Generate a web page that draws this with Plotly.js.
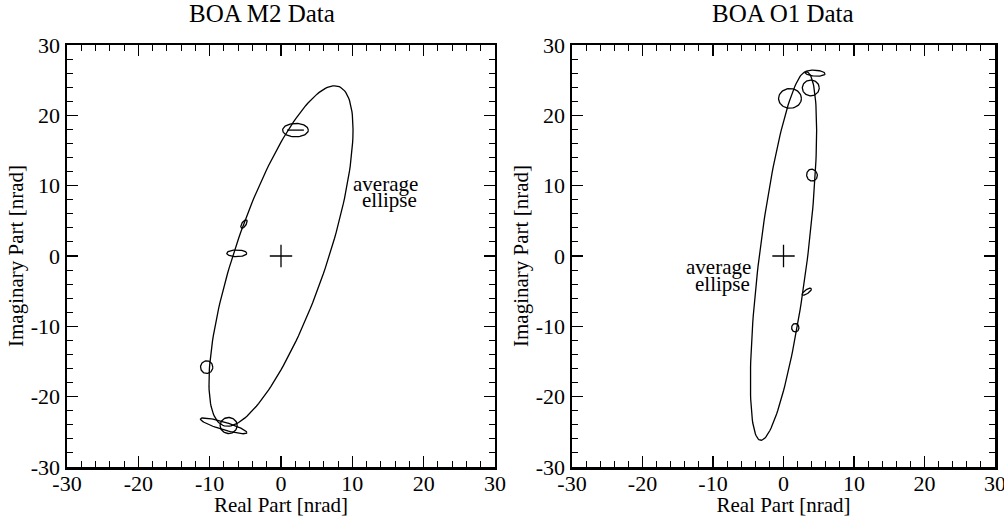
<!DOCTYPE html>
<html>
<head>
<meta charset="utf-8">
<script src="https://cdn.plot.ly/plotly-3.0.1.min.js"></script>
<style>html,body{margin:0;padding:0;background:#fff;}#chart{width:1004px;height:517px;}</style>
</head>
<body>
<div id="chart"></div>
<script>
// ---- Data ----
var panelTitles = ["BOA M2 Data", "BOA O1 Data"];
var xAxisTitle = "Real Part [nrad]";
var yAxisTitle = "Imaginary Part [nrad]";
var tickVals = [-30, -20, -10, 0, 10, 20, 30];
var tickText = ["-30", "-20", "-10", "0", "10", "20", "30"];

// average ellipse: x = ampX*cos(t), y = ampY*cos(t - phase)
var avgAmpX = [10.1, 4.7];
var avgAmpY = [24.2, 26.2];
var avgPhaseDeg = [42, 47];

// error ellipses, M2 panel
var m2CenterX = [2.03, -5.19, -6.2, -10.42, -7.34, -8.04];
var m2CenterY = [17.9, 4.55, 0.38, -15.8, -24.1, -24.15];
var m2SemiA   = [1.8, 0.68, 1.4, 0.86, 1.2, 3.4];
var m2SemiB   = [0.95, 0.3, 0.47, 0.9, 1.14, 0.55];
var m2AngleDeg = [0, 58, 0, 0, 0, -17];

// error ellipses, O1 panel
var o1CenterX = [0.92, 3.87, 4.47, 4.04, 3.3, 1.67];
var o1CenterY = [22.4, 23.9, 26.0, 11.5, -5.07, -10.2];
var o1SemiA   = [1.62, 1.2, 1.42, 0.75, 0.78, 0.52];
var o1SemiB   = [1.4, 1.12, 0.42, 0.85, 0.28, 0.6];
var o1AngleDeg = [0, 0, -4, 15, 35, 0];

// "average ellipse" labels (one line each)
var labelLines = ["average", "ellipse"];
var m2LabelX = [14.7, 15.2];
var m2LabelY = [10.3, 7.9];
var o1LabelX = [-4.5, -4.6];   // right edge
var o1LabelY = [-1.5, -3.95];

// ---- Build ----
var FONT = "Liberation Serif, Times New Roman, serif";
var NPTS = 181;

function avgEllipse(ax, ay, phDeg) {
  var ph = phDeg * Math.PI / 180, xs = [], ys = [];
  for (var i = 0; i < NPTS; i++) {
    var t = 2 * Math.PI * i / (NPTS - 1);
    xs.push(ax * Math.cos(t));
    ys.push(ay * Math.cos(t - ph));
  }
  return {x: xs, y: ys};
}
function errEllipse(cx, cy, a, b, angDeg) {
  var th = angDeg * Math.PI / 180, xs = [], ys = [];
  for (var i = 0; i < 73; i++) {
    var t = 2 * Math.PI * i / 72;
    var u = a * Math.cos(t), v = b * Math.sin(t);
    xs.push(cx + u * Math.cos(th) - v * Math.sin(th));
    ys.push(cy + u * Math.sin(th) + v * Math.cos(th));
  }
  return {x: xs, y: ys};
}

var traces = [];
var sets = [
  {cx: m2CenterX, cy: m2CenterY, a: m2SemiA, b: m2SemiB, ang: m2AngleDeg, xa: "x", ya: "y"},
  {cx: o1CenterX, cy: o1CenterY, a: o1SemiA, b: o1SemiB, ang: o1AngleDeg, xa: "x2", ya: "y2"}
];
for (var p = 0; p < 2; p++) {
  var s = sets[p];
  var av = avgEllipse(avgAmpX[p], avgAmpY[p], avgPhaseDeg[p]);
  traces.push({x: av.x, y: av.y, xaxis: s.xa, yaxis: s.ya, mode: "lines",
    line: {color: "black", width: 1.3}, hoverinfo: "skip", showlegend: false});
  for (var k = 0; k < s.cx.length; k++) {
    var e = errEllipse(s.cx[k], s.cy[k], s.a[k], s.b[k], s.ang[k]);
    traces.push({x: e.x, y: e.y, xaxis: s.xa, yaxis: s.ya, mode: "lines",
      line: {color: "black", width: 1.3}, hoverinfo: "skip", showlegend: false});
  }
  traces.push({x: [0], y: [0], xaxis: s.xa, yaxis: s.ya, mode: "markers",
    marker: {symbol: "cross-thin-open", size: 16, color: "black", line: {color: "black", width: 1.3}},
    hoverinfo: "skip", showlegend: false});
}
traces.push({x: [m2CenterX[0]], y: [m2CenterY[0]], xaxis: "x", yaxis: "y", mode: "markers",
  marker: {symbol: "line-ew-open", size: 12, color: "black", line: {color: "black", width: 1.3}},
  hoverinfo: "skip", showlegend: false});

function axis(domain, anchor, isY) {
  var ax = {
    domain: domain, anchor: anchor, range: [-30, 30], autorange: false,
    tickmode: "array", tickvals: tickVals, ticktext: tickText,
    ticks: "inside", ticklen: 11, tickwidth: 1.4, tickcolor: "black",
    minor: {dtick: 2, tick0: 0, ticks: "inside", ticklen: 6, tickwidth: 1.1, tickcolor: "black", showgrid: false},
    showline: true, linewidth: 2.5, linecolor: "black", mirror: "ticks",
    showgrid: false, zeroline: false, ticklabeloverflow: "allow",
    tickfont: {family: FONT, size: 22, color: "black"},
    title: {text: isY ? yAxisTitle : xAxisTitle, font: {family: FONT, size: 21, color: "black"}, standoff: isY ? 2 : 6}
  };
  if (!isY) ax.ticklabelstandoff = -5;
  return ax;
}

var annots = [
  {text: panelTitles[0], xref: "paper", yref: "paper", x: 0.210, y: 1, yshift: 32, showarrow: false,
   font: {family: FONT, size: 25, color: "black"}, xanchor: "center", yanchor: "middle"},
  {text: panelTitles[1], xref: "paper", yref: "paper", x: 0.772, y: 1, yshift: 32, showarrow: false,
   font: {family: FONT, size: 25, color: "black"}, xanchor: "center", yanchor: "middle"}
];
for (var j = 0; j < labelLines.length; j++) {
  annots.push({text: labelLines[j], xref: "x", yref: "y", x: m2LabelX[j], y: m2LabelY[j], showarrow: false,
    xanchor: "center", yanchor: "middle", borderpad: 0, font: {family: FONT, size: 21, color: "black"}});
  annots.push({text: labelLines[j], xref: "x2", yref: "y2", x: o1LabelX[j], y: o1LabelY[j], showarrow: false,
    xanchor: "right", yanchor: "middle", borderpad: 0, font: {family: FONT, size: 21, color: "black"}});
}

var layout = {
  width: 1004, height: 517,
  margin: {l: 67, r: 9, t: 45, b: 50},
  paper_bgcolor: "white", plot_bgcolor: "white",
  showlegend: false,
  xaxis: axis([0, 0.4612], "y", false),
  yaxis: axis([0, 1], "x", true),
  xaxis2: axis([0.5442, 1], "y2", false),
  yaxis2: axis([0, 1], "x2", true),
  annotations: annots
};

Plotly.newPlot("chart", traces, layout, {staticPlot: true, displayModeBar: false});
</script>
</body>
</html>
